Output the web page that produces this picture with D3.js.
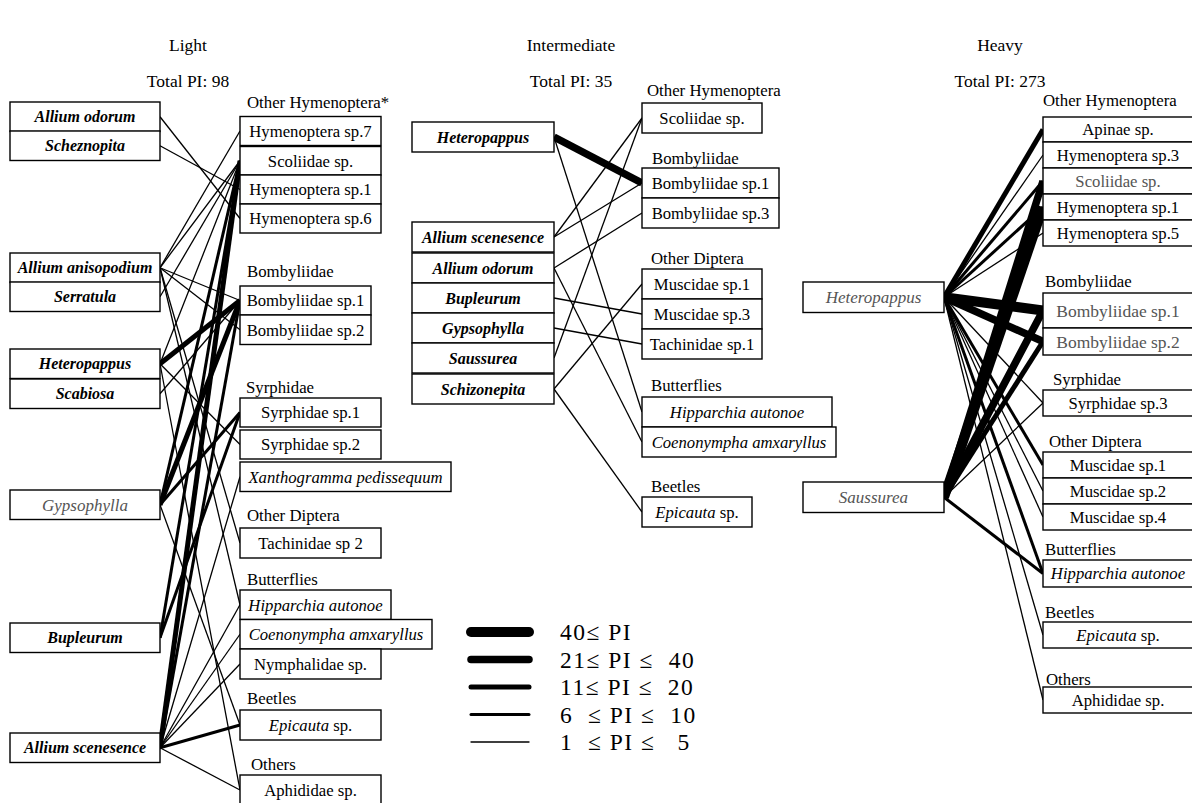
<!DOCTYPE html>
<html>
<head>
<meta charset="utf-8">
<script src="https://cdn.jsdelivr.net/npm/d3@7"></script>
<style>
  body { margin: 0; background: #fff; }
  svg { display: block; }
  text { font-family: 'Liberation Serif', 'Times New Roman', serif; }
</style>
</head>
<body>
<svg id="chart" width="1192" height="803"></svg>
<script>
// ---------- data ----------
const panelNames = ["Light", "Intermediate", "Heavy"];
const panelTotals = [98, 35, 273];

// Light grazing
const lightPlants = ["Allium odorum", "Scheznopita", "Allium anisopodium", "Serratula",
  "Heteropappus", "Scabiosa", "Gypsophylla", "Bupleurum", "Allium scenesence"];
const lightInsects = ["Hymenoptera sp.7", "Scoliidae sp.", "Hymenoptera sp.1", "Hymenoptera sp.6",
  "Bombyliidae sp.1", "Bombyliidae sp.2", "Syrphidae sp.1", "Syrphidae sp.2",
  "Xanthogramma pedissequum", "Tachinidae sp 2", "Hipparchia autonoe",
  "Coenonympha amxaryllus", "Nymphalidae sp.", "Epicauta sp.", "Aphididae sp."];
const lightGroups = ["Other Hymenoptera*", "Bombyliidae", "Syrphidae", "Other Diptera",
  "Butterflies", "Beetles", "Others"];
const lightLinks = [
  ["Allium odorum", "Hymenoptera sp.6", 1],
  ["Scheznopita", "Hymenoptera sp.1", 1],
  ["Allium anisopodium", "Hymenoptera sp.7", 1],
  ["Allium anisopodium", "Scoliidae sp.", 1],
  ["Allium anisopodium", "Bombyliidae sp.1", 1],
  ["Allium anisopodium", "Bombyliidae sp.2", 1],
  ["Allium anisopodium", "Tachinidae sp 2", 1],
  ["Allium anisopodium", "Hipparchia autonoe", 1],
  ["Serratula", "Scoliidae sp.", 1],
  ["Heteropappus", "Bombyliidae sp.1", 11],
  ["Heteropappus", "Scoliidae sp.", 1],
  ["Heteropappus", "Syrphidae sp.2", 1],
  ["Heteropappus", "Aphididae sp.", 1],
  ["Scabiosa", "Bombyliidae sp.1", 1],
  ["Gypsophylla", "Bombyliidae sp.1", 20],
  ["Gypsophylla", "Syrphidae sp.1", 7],
  ["Gypsophylla", "Scoliidae sp.", 6],
  ["Gypsophylla", "Epicauta sp.", 1],
  ["Bupleurum", "Syrphidae sp.1", 6],
  ["Bupleurum", "Scoliidae sp.", 6],
  ["Allium scenesence", "Scoliidae sp.", 11],
  ["Allium scenesence", "Bombyliidae sp.1", 6],
  ["Allium scenesence", "Xanthogramma pedissequum", 1],
  ["Allium scenesence", "Hipparchia autonoe", 1],
  ["Allium scenesence", "Coenonympha amxaryllus", 1],
  ["Allium scenesence", "Nymphalidae sp.", 1],
  ["Allium scenesence", "Epicauta sp.", 6],
  ["Allium scenesence", "Aphididae sp.", 1]
];

// Intermediate grazing
const interPlants = ["Heteropappus", "Allium scenesence", "Allium odorum", "Bupleurum",
  "Gypsophylla", "Saussurea", "Schizonepita"];
const interInsects = ["Scoliidae sp.", "Bombyliidae sp.1", "Bombyliidae sp.3", "Muscidae sp.1",
  "Muscidae sp.3", "Tachinidae sp.1", "Hipparchia autonoe", "Coenonympha amxaryllus", "Epicauta sp."];
const interGroups = ["Other Hymenoptera", "Bombyliidae", "Other Diptera", "Butterflies", "Beetles"];
const interLinks = [
  ["Heteropappus", "Bombyliidae sp.1", 22],
  ["Heteropappus", "Hipparchia autonoe", 1],
  ["Allium scenesence", "Scoliidae sp.", 1],
  ["Allium scenesence", "Bombyliidae sp.1", 2],
  ["Allium odorum", "Bombyliidae sp.3", 1],
  ["Allium odorum", "Coenonympha amxaryllus", 1],
  ["Bupleurum", "Muscidae sp.3", 1],
  ["Gypsophylla", "Tachinidae sp.1", 2],
  ["Saussurea", "Scoliidae sp.", 1],
  ["Schizonepita", "Muscidae sp.1", 1],
  ["Schizonepita", "Epicauta sp.", 2]
];

// Heavy grazing
const heavyPlants = ["Heteropappus", "Saussurea"];
const heavyInsects = ["Apinae sp.", "Hymenoptera sp.3", "Scoliidae sp.", "Hymenoptera sp.1",
  "Hymenoptera sp.5", "Bombyliidae sp.1", "Bombyliidae sp.2", "Syrphidae sp.3",
  "Muscidae sp.1", "Muscidae sp.2", "Muscidae sp.4", "Hipparchia autonoe", "Epicauta sp.", "Aphididae sp."];
const heavyGroups = ["Other Hymenoptera", "Bombyliidae", "Syrphidae", "Other Diptera",
  "Butterflies", "Beetles", "Others"];
const heavyLinks = [
  ["Heteropappus", "Apinae sp.", 20],
  ["Heteropappus", "Hymenoptera sp.3", 3],
  ["Heteropappus", "Scoliidae sp.", 8],
  ["Heteropappus", "Hymenoptera sp.1", 10],
  ["Heteropappus", "Hymenoptera sp.5", 2],
  ["Heteropappus", "Bombyliidae sp.1", 45],
  ["Heteropappus", "Bombyliidae sp.2", 25],
  ["Heteropappus", "Syrphidae sp.3", 2],
  ["Heteropappus", "Muscidae sp.1", 8],
  ["Heteropappus", "Muscidae sp.2", 2],
  ["Heteropappus", "Muscidae sp.4", 2],
  ["Heteropappus", "Hipparchia autonoe", 8],
  ["Heteropappus", "Epicauta sp.", 2],
  ["Heteropappus", "Aphididae sp.", 1],
  ["Saussurea", "Scoliidae sp.", 25],
  ["Saussurea", "Hymenoptera sp.1", 55],
  ["Saussurea", "Bombyliidae sp.1", 30],
  ["Saussurea", "Bombyliidae sp.2", 15],
  ["Saussurea", "Syrphidae sp.3", 2],
  ["Saussurea", "Hipparchia autonoe", 8]
];

// Legend classes of pollination interaction (PI)
const legendLabels = ["40\u2264 PI", "21\u2264 PI \u2264  40", "11\u2264 PI \u2264  20",
  "6  \u2264 PI \u2264  10", "1  \u2264 PI \u2264   5"];
const legendPI = [41, 21, 11, 6, 1];

// Names written in italics
const italicNames = ["Xanthogramma pedissequum", "Hipparchia autonoe", "Coenonympha amxaryllus"];

// ---------- layout ----------
const layout = {
  light: {
    titleX: 188,
    plantX: 10, plantW: 150,
    plantTops: [102, 131, 253, 282, 349, 379, 490, 623, 733],
    plantH: 29.5,
    insectX: 240,
    insectTops: [116.5, 146.5, 175, 204, 286, 315, 398, 430, 462, 528, 590, 619.5, 649, 710, 775],
    insectH: [29, 28.5, 29, 29, 29, 29.5, 29, 29, 29.5, 30, 29.5, 29.5, 30, 30, 30],
    insectW: [141, 141, 141, 141, 131, 131, 141, 141, 211, 141, 151, 192, 141, 141, 141],
    groupBase: [108, 277, 393, 521, 585, 704, 770],
    groupX: [247, 247, 246, 247, 247, 247, 251],
    grayPlants: ["Gypsophylla"], grayInsects: []
  },
  inter: {
    titleX: 571,
    plantX: 412, plantW: 142,
    plantTops: [122, 222, 253, 283, 313, 343, 374],
    plantH: 30,
    insectX: 642,
    insectTops: [103, 168, 198, 269, 299, 329, 397, 427, 497],
    insectH: [30, 30, 30, 30, 30, 30, 30, 30, 30],
    insectW: [120, 137, 137, 120, 120, 120, 190, 194, 110],
    groupBase: [96, 164, 264, 391, 492],
    groupX: [647, 652, 651, 651, 651],
    grayPlants: [], grayInsects: []
  },
  heavy: {
    titleX: 1000,
    plantX: 803, plantW: 141,
    plantTops: [282, 482],
    plantH: 30.5,
    insectX: 1043,
    insectTops: [117, 142, 168, 194, 220, 293, 328, 390, 452, 478, 504, 560, 622, 687],
    insectH: [25, 26, 26, 26, 26, 35, 27, 26, 26, 26, 26, 27, 26, 26],
    insectW: [152, 152, 152, 152, 152, 152, 152, 152, 152, 152, 152, 152, 152, 152],
    groupBase: [106, 287, 385, 447, 555, 618, 685],
    groupX: [1043, 1045, 1053, 1049, 1045, 1045, 1046],
    grayPlants: ["Heteropappus", "Saussurea"],
    grayInsects: ["Scoliidae sp.", "Bombyliidae sp.1", "Bombyliidae sp.2"]
  }
};

// stroke width per PI class
const widthScale = d3.scaleThreshold().domain([6, 11, 21, 41]).range([1.3, 3, 5, 7.5, 10]);

const svg = d3.select("#chart");

function writeLabel(sel, name) {
  if (name.startsWith("Epicauta")) {
    sel.append("tspan").attr("font-style", "italic").text("Epicauta");
    sel.append("tspan").text(name.slice("Epicauta".length));
  } else {
    sel.text(name);
    if (italicNames.includes(name)) sel.attr("font-style", "italic");
  }
}

function drawPanel(idx, plants, insects, groups, links, L) {
  const g = svg.append("g");

  // titles
  g.append("text").attr("x", L.titleX).attr("y", 51).attr("text-anchor", "middle")
    .attr("font-size", 17.5).text(panelNames[idx]);
  g.append("text").attr("x", L.titleX).attr("y", 87).attr("text-anchor", "middle")
    .attr("font-size", 17.5).text("Total PI: " + panelTotals[idx]);

  const plantPos = new Map(plants.map((p, i) => [p, {
    x: L.plantX, y: L.plantTops[i], w: L.plantW, h: L.plantH }]));
  const insectPos = new Map(insects.map((p, i) => [p, {
    x: L.insectX, y: L.insectTops[i], w: L.insectW[i], h: L.insectH[i] }]));

  // links, thin ones first so thick ones sit on top
  const sorted = links.slice().sort((a, b) => a[2] - b[2]);
  g.append("g").selectAll("line").data(sorted).join("line")
    .attr("x1", d => plantPos.get(d[0]).x + plantPos.get(d[0]).w)
    .attr("y1", d => plantPos.get(d[0]).y + plantPos.get(d[0]).h / 2)
    .attr("x2", d => insectPos.get(d[1]).x)
    .attr("y2", d => insectPos.get(d[1]).y + insectPos.get(d[1]).h / 2)
    .attr("stroke", "#000")
    .attr("stroke-width", d => widthScale(d[2]));

  // plant boxes
  const pg = g.append("g").selectAll("g").data(plants).join("g");
  pg.append("rect")
    .attr("x", d => plantPos.get(d).x).attr("y", d => plantPos.get(d).y)
    .attr("width", d => plantPos.get(d).w).attr("height", d => plantPos.get(d).h)
    .attr("fill", "#fff").attr("stroke", "#000").attr("stroke-width", 1.4);
  pg.append("text")
    .attr("x", d => plantPos.get(d).x + plantPos.get(d).w / 2)
    .attr("y", d => plantPos.get(d).y + plantPos.get(d).h / 2)
    .attr("dy", "0.35em").attr("text-anchor", "middle")
    .attr("font-size", d => L.grayPlants.includes(d) ? 17 : 16).attr("font-style", "italic")
    .attr("font-weight", d => L.grayPlants.includes(d) ? "normal" : "bold")
    .attr("fill", d => L.grayPlants.includes(d) ? "#555" : "#000")
    .text(d => d);

  // insect boxes
  const ig = g.append("g").selectAll("g").data(insects).join("g");
  ig.append("rect")
    .attr("x", d => insectPos.get(d).x).attr("y", d => insectPos.get(d).y)
    .attr("width", d => insectPos.get(d).w).attr("height", d => insectPos.get(d).h)
    .attr("fill", "#fff").attr("stroke", "#000").attr("stroke-width", 1.4);
  ig.append("text")
    .attr("x", d => insectPos.get(d).x + insectPos.get(d).w / 2 - (idx === 2 ? 1 : 0))
    .attr("y", d => insectPos.get(d).y + insectPos.get(d).h / 2)
    .attr("dy", "0.35em").attr("text-anchor", "middle")
    .attr("font-size", d => (idx === 2 && d.startsWith("Bombyliidae")) ? 17.5 : 16.7)
    .attr("fill", d => L.grayInsects.includes(d) ? "#555" : "#000")
    .each(function (d) { writeLabel(d3.select(this), d); });

  // group headings
  g.append("g").selectAll("text").data(groups).join("text")
    .attr("x", (d, i) => L.groupX[i]).attr("y", (d, i) => L.groupBase[i])
    .attr("font-size", 16.8).text(d => d);
}

drawPanel(0, lightPlants, lightInsects, lightGroups, lightLinks, layout.light);
drawPanel(1, interPlants, interInsects, interGroups, interLinks, layout.inter);
drawPanel(2, heavyPlants, heavyInsects, heavyGroups, heavyLinks, layout.heavy);

// legend
const legendY = d3.scaleLinear().domain([0, legendLabels.length - 1]).range([632, 742]);
const lg = svg.append("g");
lg.selectAll("line").data(legendPI).join("line")
  .attr("x1", 471).attr("x2", 529)
  .attr("y1", (d, i) => legendY(i)).attr("y2", (d, i) => legendY(i))
  .attr("stroke", "#000").attr("stroke-linecap", "round")
  .attr("stroke-width", d => widthScale(d));
lg.selectAll("text").data(legendLabels).join("text")
  .attr("x", 560).attr("y", (d, i) => legendY(i) + 8)
  .attr("font-size", 23.5).attr("letter-spacing", 1.5).style("white-space", "pre")
  .text(d => d);
</script>
</body>
</html>
